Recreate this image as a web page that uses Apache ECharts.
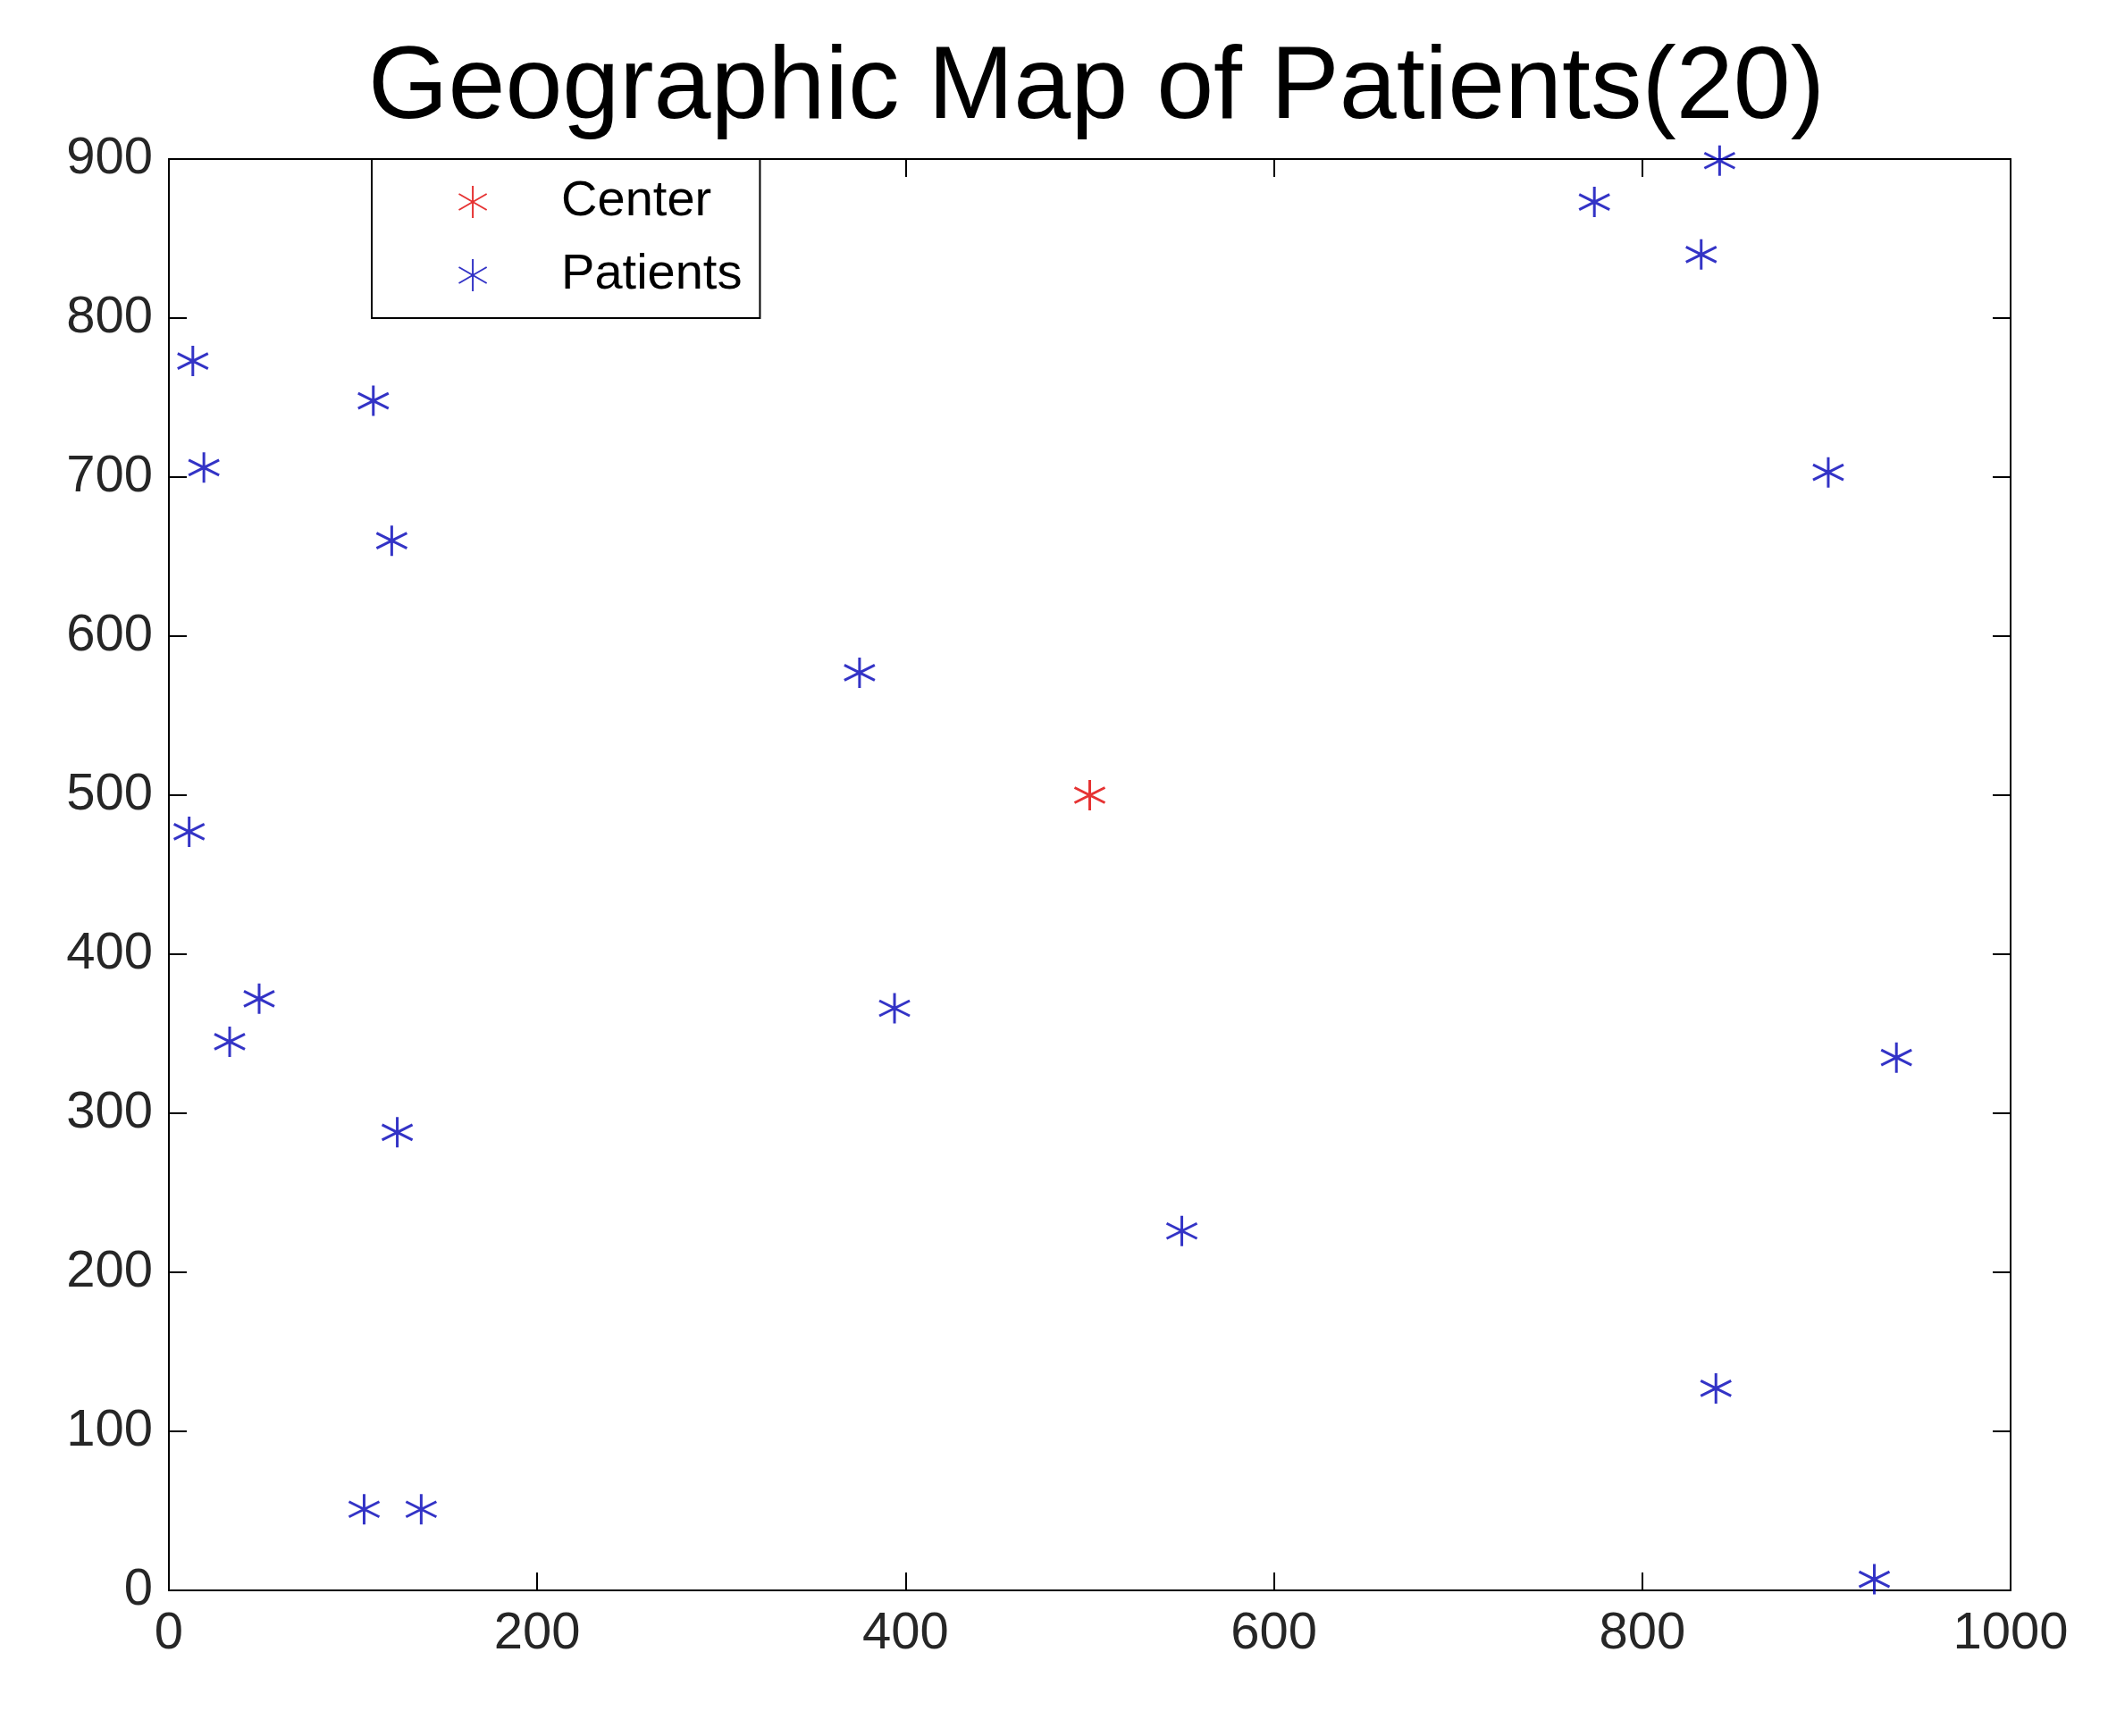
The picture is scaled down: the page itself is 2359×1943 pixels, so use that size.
<!DOCTYPE html>
<html>
<head>
<meta charset="utf-8">
<script src="https://cdn.jsdelivr.net/npm/echarts@6/dist/echarts.min.js"></script>
<style>
  html, body { margin: 0; padding: 0; background: #fff; }
  #chart { width: 2359px; height: 1943px; }
</style>
</head>
<body>
<div id="chart"></div>
<script>
const titleText = 'Geographic Map of Patients(20)';
const centerPoint = [[500, 500]];
const patientX = [13, 19, 111, 121, 375, 11, 49, 33, 124, 394, 550, 106, 137, 774, 832, 842, 901, 938, 840, 926];
const patientY = [773, 706, 748, 660, 577, 477, 372, 345, 288, 366, 226, 51, 51, 873, 840, 899, 703, 335, 127, 7];

const patients = patientX.map((x, i) => [x, patientY[i]]);

// asterisk marker, stroke only
const star = 'path://M0,-10L0,10M-8.66,-5L8.66,5M-8.66,5L8.66,-5';

const chart = echarts.init(document.getElementById('chart'));

const axisBase = {
  type: 'value',
  axisLine: { show: true, onZero: false, lineStyle: { color: '#000', width: 2 } },
  axisTick: { show: true, inside: true, length: 20, lineStyle: { color: '#000', width: 2 } },
  splitLine: { show: false }
};

chart.setOption({
  backgroundColor: '#fff',
  animation: false,
  title: {
    text: titleText,
    left: 1222,
    textAlign: 'center',
    top: 38,
    textStyle: { fontFamily: 'Liberation Sans', fontWeight: 'normal', fontSize: 115, color: '#000' }
  },
  legend: {
    orient: 'vertical',
    left: 416,
    top: 178,
    padding: [20, 20, 20, 95],
    itemWidth: 36,
    itemHeight: 36,
    itemGap: 26,
    borderColor: '#000',
    borderWidth: 2,
    borderRadius: 0,
    backgroundColor: '#fff',
    textStyle: { fontFamily: 'Liberation Sans', fontSize: 56, color: '#000', padding: [0, 0, 0, 76] },
    data: ['Center', 'Patients']
  },
  grid: { left: 189, right: 109, top: 178, bottom: 163, containLabel: false },
  xAxis: [
    Object.assign({}, axisBase, {
      min: 0, max: 1000, interval: 200, position: 'bottom',
      axisLabel: { fontFamily: 'Liberation Sans', fontSize: 58, color: '#262626', margin: 20, formatter: v => String(v) }
    }),
    Object.assign({}, axisBase, {
      min: 0, max: 1000, interval: 200, position: 'top', axisLabel: { show: false }
    })
  ],
  yAxis: [
    Object.assign({}, axisBase, {
      min: 0, max: 900, interval: 100, position: 'left',
      axisLabel: { fontFamily: 'Liberation Sans', fontSize: 58, color: '#262626', margin: 18 }
    }),
    Object.assign({}, axisBase, {
      min: 0, max: 900, interval: 100, position: 'right', axisLabel: { show: false }
    })
  ],
  series: [
    {
      name: 'Center',
      type: 'scatter',
      symbol: star,
      symbolSize: 34,
      itemStyle: { color: 'none', borderColor: '#e00000', borderWidth: 3 },
      data: centerPoint
    },
    {
      name: 'Patients',
      type: 'scatter',
      symbol: star,
      symbolSize: 34,
      itemStyle: { color: 'none', borderColor: '#0000b8', borderWidth: 3 },
      data: patients
    }
  ]
});
</script>
</body>
</html>
